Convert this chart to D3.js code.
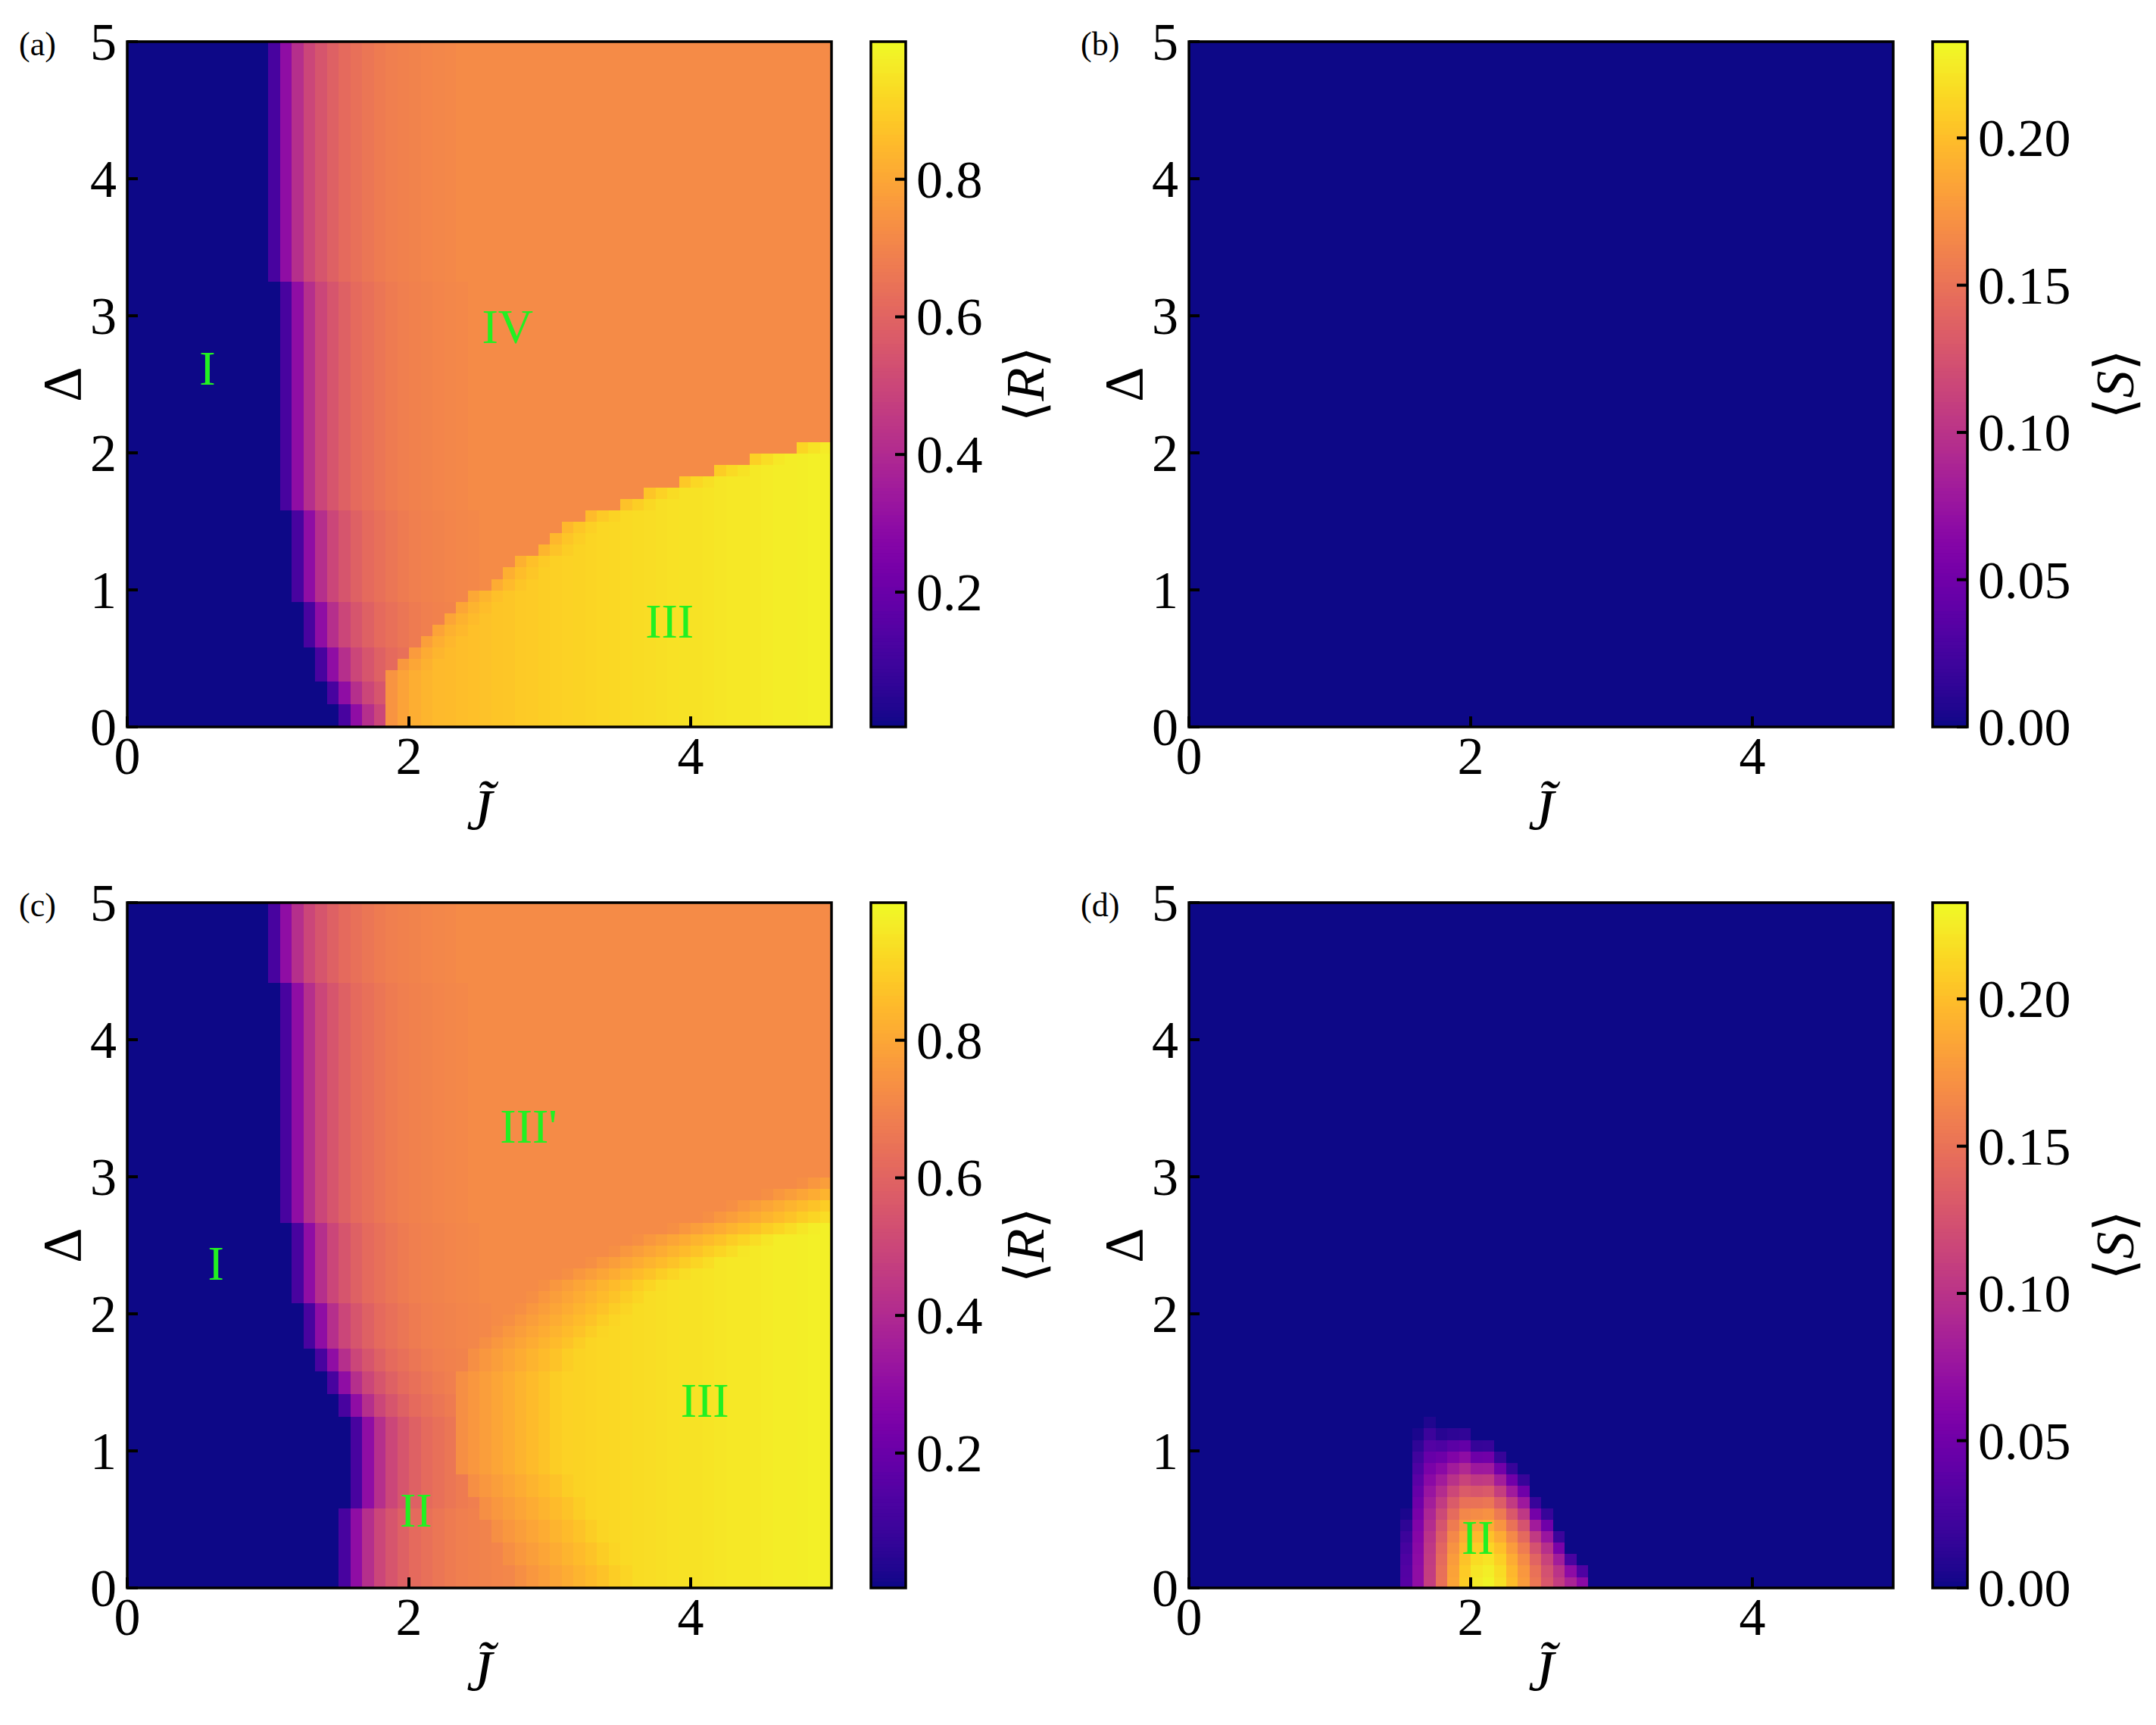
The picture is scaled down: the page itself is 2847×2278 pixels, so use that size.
<!DOCTYPE html>
<html><head><meta charset="utf-8">
<script src="https://cdn.jsdelivr.net/npm/d3@7"></script>
<style>body{margin:0;background:#fff}text{font-family:"Liberation Serif","DejaVu Serif",serif}</style>
</head><body><svg id="c" width="2847" height="2278"></svg>
<script>
// ---- data (grid 60 x 60 over J~ in [0,5], Delta in [0,5]; rows listed from Delta=0 upward) ----
const N = 60;
const xTicks = [0, 2, 4];
const yTicks = [0, 1, 2, 3, 4, 5];
const rTicks = [0.2, 0.4, 0.6, 0.8];
const sTicks = [0.00, 0.05, 0.10, 0.15, 0.20];
// column where region I ends (first non-zero R cell), per row
const onsetA = [18,18,17,17,16,16,16,15,15,15,15,14,14,14,14,14,14,14,14,13,13,13,13,13,13,13,13,13,13,13,13,13,13,13,13,13,13,13,13,12,12,12,12,12,12,12,12,12,12,12,12,12,12,12,12,12,12,12,12,12];
const onsetC = [18,18,18,18,18,18,18,19,19,19,19,19,19,19,19,18,18,17,17,16,16,15,15,15,15,14,14,14,14,14,14,14,13,13,13,13,13,13,13,13,13,13,13,13,13,13,13,13,13,13,13,13,13,12,12,12,12,12,12,12];
// column where region III starts, per row (rows beyond the list have no III)
const threeA = [22,22,22,22,22,23,24,25,26,27,28,29,31,32,33,35,36,37,39,42,44,47,50,53,57];
const threeC = [33,33,32,32,31,31,30,30,29,29,28,28,28,28,28,28,28,28,28,29,29,30,31,32,33,34,35,37,39,41,43,46,49,51,54,57];
// R profile after the onset (offset in cells)
const transR = [0.12,0.30,0.42,0.50,0.55,0.59,0.62,0.64,0.66,0.675,0.685,0.695,0.70,0.705,0.71,0.715,0.72];
// R in region III per column
const threeR = [0.8,0.8,0.8,0.8,0.8,0.8,0.8,0.8,0.8,0.8,0.8,0.8,0.8,0.8,0.8,0.8,0.8,0.8,0.8,0.8,
  0.79,0.80,0.81,0.82,0.83,0.84,0.85,0.855,0.86,0.865,0.87,0.876,0.882,0.888,0.894,0.90,0.904,0.908,0.912,0.916,
  0.92,0.924,0.928,0.932,0.936,0.94,0.943,0.946,0.949,0.952,0.955,0.958,0.961,0.964,0.967,0.97,0.972,0.975,0.977,0.98];
// drop below the III level just inside the boundary, panel (a)
const dropA = [0.06,0.03,0.012,0];
// gradual rise into III in panel (c)
const rampC = [0.735,0.755,0.775,0.795,0.815,0.835,0.855,0.875,0.895,0.915,0.935,0.955,0.97,0.98];
// panel (d): S blob columns, top row, bottom value
const colsD = [18,19,20,21,22,23,24,25,26,27,28,29,30,31,32,33];
const topD  = [6,13,14,13,13,13,12,12,11,10,9,7,6,4,2,1];
const peakD = [0.035,0.07,0.11,0.15,0.185,0.21,0.225,0.23,0.22,0.20,0.18,0.155,0.13,0.11,0.09,0.07];

function buildR(onset, three, panelC){
  const g=[];
  for(let r=0;r<N;r++){const row=[];
    for(let c=0;c<N;c++){
      let v=0.004;
      if(c>=onset[r]){const o=c-onset[r]; v=transR[Math.min(o,transR.length-1)];}
      if(r<three.length && c>=three[r]){
        const o=c-three[r];
        v = panelC ? Math.min(threeR[c], rampC[Math.min(o,rampC.length-1)])
                   : Math.max(v, threeR[c]-dropA[Math.min(o,dropA.length-1)]);
      }
      row.push(v);}
    g.push(row);}
  return g;
}
function buildS(hasBlob){
  const g=[];
  for(let r=0;r<N;r++){g.push(new Array(N).fill(0));}
  if(hasBlob) colsD.forEach((c,i)=>{for(let r=0;r<=topD[i];r++){const f=(r+0.5)/(topD[i]+1);g[r][c]=Math.max(0.004,peakD[i]*(1-f*f));}});
  return g;
}
const panels=[
 {lab:"(a)",x:168,y:55,grid:buildR(onsetA,threeA,false),dom:[0.004,1.0],ticks:rTicks,fmt:d3.format(".1f"),cl:"R",clx:228,
  regions:[["I",0.57,2.5],["IV",2.7,2.8],["III",3.85,0.65]]},
 {lab:"(b)",x:1570,y:55,grid:buildS(false),dom:[0,0.2327],ticks:sTicks,fmt:d3.format(".2f"),cl:"S",clx:265,regions:[]},
 {lab:"(c)",x:168,y:1192,grid:buildR(onsetC,threeC,true),dom:[0.004,1.0],ticks:rTicks,fmt:d3.format(".1f"),cl:"R",clx:228,
  regions:[["I",0.63,2.25],["III'",2.85,3.25],["III",4.1,1.25],["II",2.05,0.45]]},
 {lab:"(d)",x:1570,y:1192,grid:buildS(true),dom:[0,0.2327],ticks:sTicks,fmt:d3.format(".2f"),cl:"S",clx:265,
  regions:[["II",2.05,0.25]]}
];
const W=930,H=905,svg=d3.select("#c");
svg.append("rect").attr("width",2847).attr("height",2278).attr("fill","#fff");
const FS=70;
panels.forEach(p=>{
  const g=svg.append("g").attr("transform",`translate(${p.x},${p.y})`);
  const x=d3.scaleLinear().domain([0,5]).range([0,W]);
  const y=d3.scaleLinear().domain([0,5]).range([H,0]);
  const col=d3.scaleSequential(d3.interpolatePlasma).domain(p.dom);
  const cells=[];p.grid.forEach((row,r)=>row.forEach((v,c)=>cells.push({r,c,v})));
  const step=5/N;
  g.append("g").selectAll("rect").data(cells).join("rect")
   .attr("x",d=>x(d.c*step)).attr("y",d=>y((d.r+1)*step))
   .attr("width",x(step)-x(0)+0.6).attr("height",y(0)-y(step)+0.6)
   .attr("fill",d=>col(d.v)).attr("shape-rendering","crispEdges");
  p.regions.forEach(([t,jx,dy])=>g.append("text").attr("x",x(jx)).attr("y",y(dy)).attr("text-anchor","middle")
    .attr("font-size",64).attr("fill","#22f022").text(t));
  g.append("rect").attr("width",W).attr("height",H).attr("fill","none").attr("stroke","#000").attr("stroke-width",3.5);
  xTicks.forEach(t=>{g.append("line").attr("x1",x(t)).attr("x2",x(t)).attr("y1",H).attr("y2",H-14).attr("stroke","#000").attr("stroke-width",4);
    g.append("text").attr("x",x(t)).attr("y",H+62).attr("text-anchor","middle").attr("font-size",FS).text(t);});
  yTicks.forEach(t=>{g.append("line").attr("x1",0).attr("x2",14).attr("y1",y(t)).attr("y2",y(t)).attr("stroke","#000").attr("stroke-width",4);
    g.append("text").attr("x",-14).attr("y",y(t)+24).attr("text-anchor","end").attr("font-size",FS).text(t);});
  g.append("text").attr("x",x(2.5)).attr("y",H+135).attr("text-anchor","middle").attr("font-size",76).attr("font-style","italic").text("J\u0303");
  g.append("text").attr("transform",`translate(-62,${H/2}) rotate(-90)`).attr("text-anchor","middle").attr("font-size",72).text("Δ");
  g.append("text").attr("x",-143).attr("y",18).attr("font-size",44).text(p.lab);
  // colorbar
  const cb=g.append("g").attr("transform",`translate(${W+52},0)`);
  const cw=46, cy=d3.scaleLinear().domain(p.dom).range([H,0]);
  const nS=200;
  cb.selectAll("rect.s").data(d3.range(nS)).join("rect").attr("class","s")
    .attr("x",0).attr("width",cw).attr("y",i=>H-(i+1)*H/nS).attr("height",H/nS+1)
    .attr("fill",i=>col(p.dom[0]+(i+0.5)/nS*(p.dom[1]-p.dom[0])));
  cb.append("rect").attr("width",cw).attr("height",H).attr("fill","none").attr("stroke","#000").attr("stroke-width",3.5);
  p.ticks.forEach(t=>{cb.append("line").attr("x1",cw).attr("x2",cw-14).attr("y1",cy(t)).attr("y2",cy(t)).attr("stroke","#000").attr("stroke-width",4);
    cb.append("text").attr("x",cw+14).attr("y",cy(t)+24).attr("font-size",FS).text(p.fmt(t));});
  cb.append("text").attr("transform",`translate(${p.clx},${H/2}) rotate(-90)`).attr("text-anchor","middle").attr("font-size",72)
    .html('⟨<tspan font-style="italic">'+p.cl+'</tspan>⟩');
});
</script></body></html>
